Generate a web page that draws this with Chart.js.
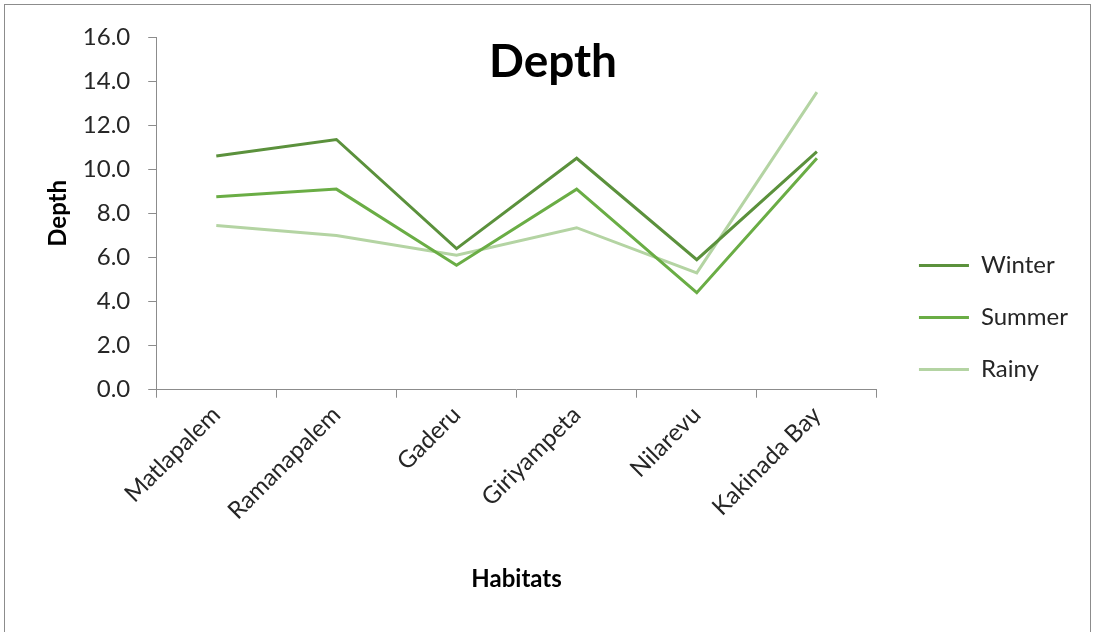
<!DOCTYPE html>
<html>
<head>
<meta charset="utf-8">
<script src="https://cdn.jsdelivr.net/npm/chart.js@4"></script>
<style>
  html, body { margin: 0; padding: 0; background: #fff; }
  #wrap { position: relative; width: 1094px; height: 632px; overflow: hidden; }
  #marco { position: absolute; left: 4px; top: 4px; width: 1087px; height: 700px; border: 1px solid #8c8c8c; box-sizing: border-box; }
  canvas { position: absolute; left: 0; top: 0; }
</style>
</head>
<body>
<div id="wrap">
  <div id="marco"></div>
  <canvas id="myChart" width="1094" height="632"></canvas>
</div>
<script>
// Datos
const habitats = ['Matlapalem', 'Ramanapalem', 'Gaderu', 'Giriyampeta', 'Nilarevu', 'Kakinada Bay'];
const winter = [10.6, 11.35, 6.4, 10.5, 5.9, 10.8];
const summer = [8.75, 9.1, 5.65, 9.1, 4.4, 10.5];
const rainy = [7.45, 7.0, 6.1, 7.35, 5.3, 13.5];
const yTicks = [0, 2, 4, 6, 8, 10, 12, 14, 16];

const fuente = 'Lato, "Liberation Sans", sans-serif';

// Título dentro del área del gráfico, como en Excel
const tituloPlugin = {
    id: 'tituloDepth',
    afterDraw(chart) {
        const ctx = chart.ctx;
        ctx.save();
        ctx.font = 'bold 46px ' + fuente;
        ctx.fillStyle = '#000';
        ctx.textAlign = 'center';
        ctx.textBaseline = 'middle';
        ctx.fillText('Depth', chart.width / 2 + 6, 62);
        ctx.restore();
    }
};

// Separar la leyenda del área del gráfico
const leyendaPlugin = {
    id: 'moverLeyenda',
    afterLayout(chart) {
        if (chart.legend) {
            chart.legend.left += 14;
            chart.legend.right += 14;
        }
    }
};

const serie = (label, data, color) => ({
    label,
    data,
    borderColor: color,
    backgroundColor: color,
    borderWidth: 3,
    pointRadius: 0,
    tension: 0,
    fill: false
});

const config = {
    type: 'line',
    data: {
        labels: habitats,
        datasets: [
            serie('Winter', winter, '#5b913c'),
            serie('Summer', summer, '#6aad45'),
            serie('Rainy', rainy, '#b4d4a3')
        ]
    },
    options: {
        responsive: false,
        animation: false,
        layout: { padding: { left: 44, top: 37, right: 30, bottom: 34 } },
        plugins: {
            tooltip: { enabled: false },
            legend: {
                position: 'right',
                labels: {
                    usePointStyle: true,
                    pointStyle: 'line',
                    pointStyleWidth: 50,
                    padding: 28,
                    color: '#262626',
                    font: { family: fuente, size: 24 }
                }
            }
        },
        scales: {
            x: {
                offset: true,
                grid: {
                    offset: true,
                    drawOnChartArea: false,
                    tickLength: 8,
                    color: '#8c8c8c'
                },
                border: { color: '#8c8c8c' },
                ticks: {
                    minRotation: 45,
                    maxRotation: 45,
                    padding: 3,
                    color: '#262626',
                    font: { family: fuente, size: 24 }
                },
                title: {
                    display: true,
                    text: 'Habitats',
                    color: '#000',
                    padding: { top: 37, bottom: 4 },
                    font: { family: fuente, size: 24, weight: 'bold' }
                }
            },
            y: {
                min: 0,
                max: 16,
                afterBuildTicks(scale) {
                    scale.ticks = yTicks.map(v => ({ value: v }));
                },
                grid: {
                    drawOnChartArea: false,
                    tickLength: 8,
                    color: '#8c8c8c'
                },
                border: { color: '#8c8c8c' },
                ticks: {
                    padding: 18,
                    color: '#262626',
                    font: { family: fuente, size: 24 },
                    callback: v => Number(v).toFixed(1)
                },
                title: {
                    display: true,
                    text: 'Depth',
                    color: '#000',
                    padding: { top: 0, bottom: -8 },
                    font: { family: fuente, size: 24, weight: 'bold' }
                }
            }
        }
    },
    plugins: [tituloPlugin, leyendaPlugin]
};

const ctx = document.getElementById('myChart').getContext('2d');
const myChart = new Chart(ctx, config);
</script>
</body>
</html>
